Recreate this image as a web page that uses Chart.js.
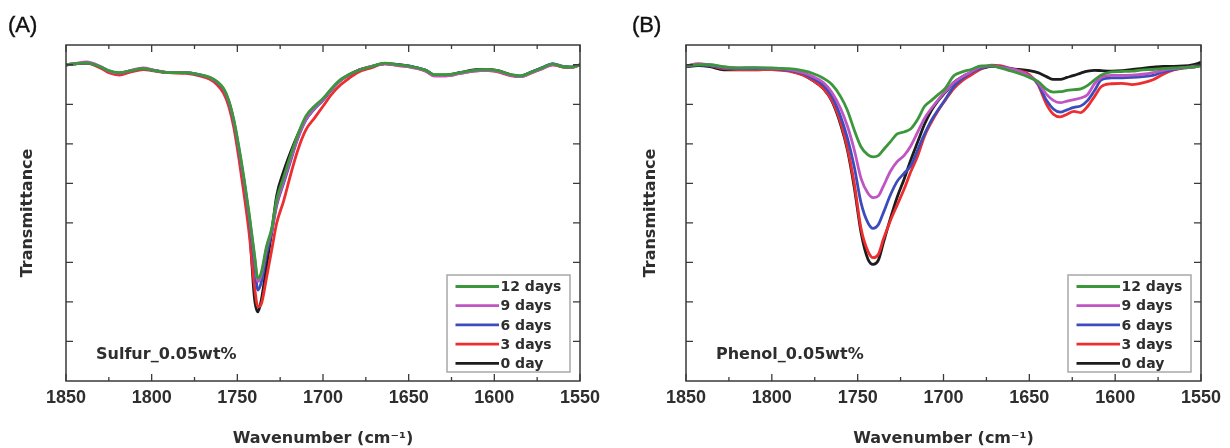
<!DOCTYPE html>
<html><head><meta charset="utf-8">
<script src="https://cdn.jsdelivr.net/npm/chart.js@4.4.0/dist/chart.umd.min.js"></script>
<style>
html,body{margin:0;padding:0;background:#fff;}
#wrap{position:relative;width:1230px;height:448px;overflow:hidden;background:#fff;}
canvas{position:absolute;top:0;}
#cA{left:0}
#cB{left:615px}
.plabel{position:absolute;top:14px;font-family:"Liberation Sans",Arial,sans-serif;font-size:22px;line-height:22px;color:#111;-webkit-text-stroke:0.4px #111;}
</style></head><body>
<div id="wrap">
<canvas id="cA" width="615" height="448"></canvas>
<canvas id="cB" width="615" height="448"></canvas>
<div class="plabel" style="left:8px">(A)</div>
<div class="plabel" style="left:632px">(B)</div>
</div>
<script>
// ---------- data ----------
const seriesLabels = ['12 days', '9 days', '6 days', '3 days', '0 day'];
const xTickValues = [1850, 1800, 1750, 1700, 1650, 1600, 1550];
const yTickValues = [1, 2, 3, 4, 5, 6, 7, 8];
const xTitle = 'Wavenumber (cm\u207B\u00B9)';
const yTitle = 'Transmittance';
const noteA = 'Sulfur_0.05wt%';
const noteB = 'Phenol_0.05wt%';

const wavenumbersA = [1850,1845,1838,1830,1825,1819,1812,1805,1798,1790,1780,1772,1766,1762,1758,1755,1752,1749,1746,1743,1740,1738,1736,1733,1730,1727,1723,1719,1715,1710,1705,1700,1695,1690,1685,1680,1672,1664,1656,1648,1640,1635,1628,1620,1612,1605,1598,1590,1585,1578,1572,1566,1560,1555,1550];
const day12A = [8.0,8.02,8.05,7.95,7.85,7.8,7.85,7.9,7.85,7.8,7.8,7.75,7.68,7.58,7.4,7.1,6.6,5.9,5.1,4.2,3.2,2.6,2.75,3.4,3.85,4.6,5.15,5.7,6.2,6.7,6.95,7.15,7.4,7.62,7.75,7.85,7.95,8.04,8.0,7.95,7.86,7.75,7.75,7.8,7.86,7.88,7.85,7.75,7.72,7.82,7.92,8.02,7.95,7.94,8.0];
const day9A  = [8.0,8.03,8.07,7.96,7.84,7.79,7.86,7.92,7.86,7.8,7.8,7.75,7.67,7.57,7.38,7.08,6.57,5.85,5.05,4.15,3.15,2.52,2.68,3.35,3.8,4.5,5.05,5.6,6.12,6.62,6.9,7.12,7.38,7.6,7.74,7.85,7.96,8.02,7.98,7.93,7.84,7.72,7.72,7.78,7.84,7.86,7.83,7.73,7.7,7.8,7.9,8.0,7.96,7.93,8.0];
const day6A  = [8.0,8.02,8.05,7.95,7.84,7.79,7.85,7.9,7.85,7.8,7.8,7.74,7.67,7.56,7.37,7.06,6.55,5.82,5.02,4.08,3.0,2.3,2.5,3.2,3.75,4.45,5.0,5.55,6.1,6.6,6.88,7.1,7.37,7.6,7.74,7.85,7.95,8.03,8.0,7.95,7.86,7.74,7.74,7.8,7.85,7.87,7.84,7.74,7.71,7.82,7.93,8.03,7.96,7.94,8.0];
const day3A  = [8.0,8.02,8.04,7.92,7.8,7.74,7.82,7.88,7.84,7.8,7.78,7.72,7.63,7.5,7.28,6.95,6.4,5.6,4.7,3.7,2.4,1.88,1.95,2.6,3.3,4.0,4.55,5.2,5.8,6.35,6.65,6.95,7.25,7.48,7.65,7.8,7.92,8.02,7.98,7.94,7.84,7.72,7.72,7.78,7.84,7.86,7.82,7.72,7.7,7.8,7.9,8.0,7.94,7.93,8.0];
const day0A  = [8.0,8.02,8.04,7.94,7.83,7.78,7.84,7.9,7.85,7.8,7.8,7.74,7.66,7.55,7.35,7.02,6.5,5.75,4.95,3.9,2.1,1.75,2.05,2.9,3.75,4.7,5.3,5.78,6.2,6.65,6.92,7.12,7.38,7.6,7.74,7.85,7.95,8.03,8.0,7.95,7.86,7.74,7.74,7.8,7.87,7.88,7.85,7.74,7.71,7.82,7.92,8.01,7.95,7.94,8.0];

const wavenumbersB = [1850,1843,1836,1828,1820,1810,1800,1790,1782,1776,1770,1765,1760,1756,1752,1748,1744,1741,1738,1735,1731,1727,1723,1719,1715,1711,1707,1703,1699,1694,1689,1684,1678,1672,1667,1662,1656,1650,1645,1640,1636,1632,1628,1624,1620,1616,1612,1608,1602,1596,1590,1584,1578,1572,1566,1560,1555,1550];
const day12B = [7.97,8.0,8.0,7.95,7.92,7.93,7.92,7.9,7.85,7.78,7.66,7.5,7.2,6.85,6.35,5.92,5.72,5.67,5.7,5.85,6.05,6.25,6.3,6.38,6.62,6.95,7.1,7.25,7.4,7.72,7.82,7.88,7.97,7.97,7.92,7.86,7.78,7.68,7.58,7.38,7.31,7.32,7.35,7.37,7.39,7.48,7.62,7.74,7.82,7.83,7.84,7.87,7.88,7.9,7.92,7.93,7.94,7.98];
const day9B  = [7.97,8.02,8.0,7.94,7.92,7.92,7.91,7.88,7.8,7.7,7.55,7.3,6.9,6.45,5.85,5.12,4.75,4.64,4.68,4.93,5.3,5.55,5.7,5.95,6.3,6.65,6.9,7.12,7.32,7.55,7.7,7.82,7.95,7.97,7.94,7.9,7.84,7.72,7.55,7.25,7.1,7.04,7.08,7.12,7.16,7.25,7.52,7.68,7.73,7.73,7.74,7.76,7.8,7.86,7.9,7.93,7.95,7.99];
const day6B  = [7.96,8.0,7.98,7.92,7.9,7.9,7.9,7.86,7.78,7.65,7.48,7.2,6.7,6.15,5.42,4.5,4.0,3.86,3.95,4.26,4.7,5.05,5.25,5.45,5.85,6.25,6.6,6.87,7.12,7.45,7.65,7.8,7.92,7.97,7.95,7.91,7.84,7.72,7.52,7.1,6.88,6.8,6.86,6.92,6.96,7.1,7.35,7.62,7.67,7.67,7.68,7.7,7.73,7.82,7.88,7.92,7.94,7.98];
const day3B  = [7.96,8.02,7.98,7.9,7.88,7.88,7.88,7.84,7.74,7.6,7.4,7.1,6.55,5.9,5.0,3.85,3.28,3.12,3.2,3.59,4.05,4.45,4.85,5.3,5.7,6.2,6.55,6.85,7.1,7.4,7.6,7.74,7.9,7.99,7.98,7.92,7.85,7.75,7.5,7.0,6.75,6.68,6.75,6.82,6.79,6.95,7.2,7.45,7.52,7.53,7.5,7.54,7.62,7.76,7.87,7.92,7.94,7.98];
const day0B  = [7.95,7.98,7.95,7.87,7.87,7.87,7.88,7.85,7.75,7.6,7.4,7.08,6.5,5.85,4.9,3.75,3.08,2.95,3.05,3.5,4.1,4.65,5.1,5.6,6.05,6.5,6.85,7.1,7.3,7.55,7.7,7.8,7.9,7.96,7.95,7.9,7.88,7.85,7.8,7.7,7.63,7.63,7.68,7.73,7.79,7.84,7.86,7.85,7.84,7.85,7.88,7.91,7.94,7.96,7.96,7.97,8.0,8.06];

// ---------- styles ----------
const colors = ['#3c963c', '#bf55c3', '#3c4cbc', '#ee2e2e', '#1c1c1c'];
const textColor = '#2e2e2e';
const boldFont = '"DejaVu Sans", sans-serif';
const tickFont = '"Liberation Sans", Arial, sans-serif';

const framePlugin = {
  id: 'frame',
  afterDraw(chart, args, opts) {
    const {ctx, chartArea, scales} = chart;
    const {left, right, top, bottom} = chartArea;
    const x = scales.x, y = scales.y;
    ctx.save();
    ctx.strokeStyle = '#3a3a3a';
    ctx.lineWidth = 1.5;
    ctx.strokeRect(left, top, right - left, bottom - top);
    ctx.beginPath();
    ctx.lineWidth = 1.3;
    for (let i = 0; i < xTickValues.length; i++) {
      const v = xTickValues[i];
      const px = x.getPixelForValue(v);
      ctx.moveTo(px, bottom); ctx.lineTo(px, bottom - 7);
      ctx.moveTo(px, top); ctx.lineTo(px, top + 7);
      if (i < xTickValues.length - 1) {
        const mv = (v + xTickValues[i + 1]) / 2;
        const mx = x.getPixelForValue(mv);
        ctx.moveTo(mx, bottom); ctx.lineTo(mx, bottom - 4);
        ctx.moveTo(mx, top); ctx.lineTo(mx, top + 4);
      }
    }
    yTickValues.forEach(v => {
      const py = y.getPixelForValue(v);
      ctx.moveTo(left, py); ctx.lineTo(left + 7, py);
      ctx.moveTo(right, py); ctx.lineTo(right - 7, py);
    });
    ctx.stroke();
    ctx.fillStyle = textColor;
    ctx.font = 'bold 16px ' + boldFont;
    ctx.textBaseline = 'middle';
    ctx.textAlign = 'left';
    ctx.fillText(opts.note, left + opts.noteDx, bottom - opts.noteDy);
    const bw = 123, bh = 97;
    const bx = right - 10 - bw, by = bottom - 9 - bh;
    ctx.fillStyle = '#fff';
    ctx.fillRect(bx, by, bw, bh);
    ctx.strokeStyle = '#a8a8a8';
    ctx.lineWidth = 1.5;
    ctx.strokeRect(bx, by, bw, bh);
    ctx.font = 'bold 14px ' + boldFont;
    chart.data.datasets.forEach((ds, k) => {
      const ry = by + 11.5 + k * 19.2;
      ctx.strokeStyle = ds.borderColor;
      ctx.lineWidth = 2.8;
      ctx.beginPath();
      ctx.moveTo(bx + 8.5, ry); ctx.lineTo(bx + 52, ry);
      ctx.stroke();
      ctx.fillStyle = textColor;
      ctx.fillText(ds.label, bx + 53.5, ry + 1);
    });
    ctx.restore();
  }
};

function makeChart(id, wn, series, note, yW, padR, yTitlePad, noteDx) {
  return new Chart(document.getElementById(id), {
    type: 'line',
    data: {
      datasets: seriesLabels.map((lab, k) => ({
        label: lab,
        data: wn.map((w, i) => ({x: w, y: series[k][i]})),
        borderColor: colors[k],
        backgroundColor: colors[k],
        borderWidth: 2.8,
        pointRadius: 0,
        cubicInterpolationMode: 'monotone',
        fill: false
      }))
    },
    options: {
      responsive: false,
      animation: false,
      devicePixelRatio: 1,
      layout: {padding: {top: 45, right: padR, bottom: 0, left: 0}},
      plugins: {
        legend: {display: false},
        tooltip: {enabled: false},
        frame: {note: note, noteDx: noteDx, noteDy: 26}
      },
      scales: {
        x: {
          type: 'linear', reverse: true, min: 1550, max: 1850,
          afterBuildTicks: s => { s.ticks = xTickValues.map(v => ({value: v})); },
          afterFit: s => { s.height = 67; },
          grid: {display: false, drawTicks: false},
          border: {display: false},
          ticks: {
            font: {family: tickFont, size: 18, weight: 'bold'},
            color: textColor, padding: 6, maxRotation: 0, autoSkip: false,
            callback: v => String(v)
          },
          title: {
            display: true, text: xTitle, color: textColor,
            font: {family: boldFont, size: 16, weight: 'bold'},
            padding: {top: 0, bottom: 0}
          }
        },
        y: {
          min: 0, max: 8.5,
          afterFit: s => { s.width = yW; },
          grid: {display: false, drawTicks: false},
          border: {display: false},
          ticks: {display: false},
          title: {
            display: true, text: yTitle, color: textColor,
            font: {family: boldFont, size: 16, weight: 'bold'},
            padding: {top: yTitlePad, bottom: 0}
          }
        }
      }
    },
    plugins: [framePlugin]
  });
}

makeChart('cA', wavenumbersA, [day12A, day9A, day6A, day3A, day0A], noteA, 66, 35, 18, 30);
makeChart('cB', wavenumbersB, [day12B, day9B, day6B, day3B, day0B], noteB, 71, 29, 26, 30);
</script>
</body></html>
